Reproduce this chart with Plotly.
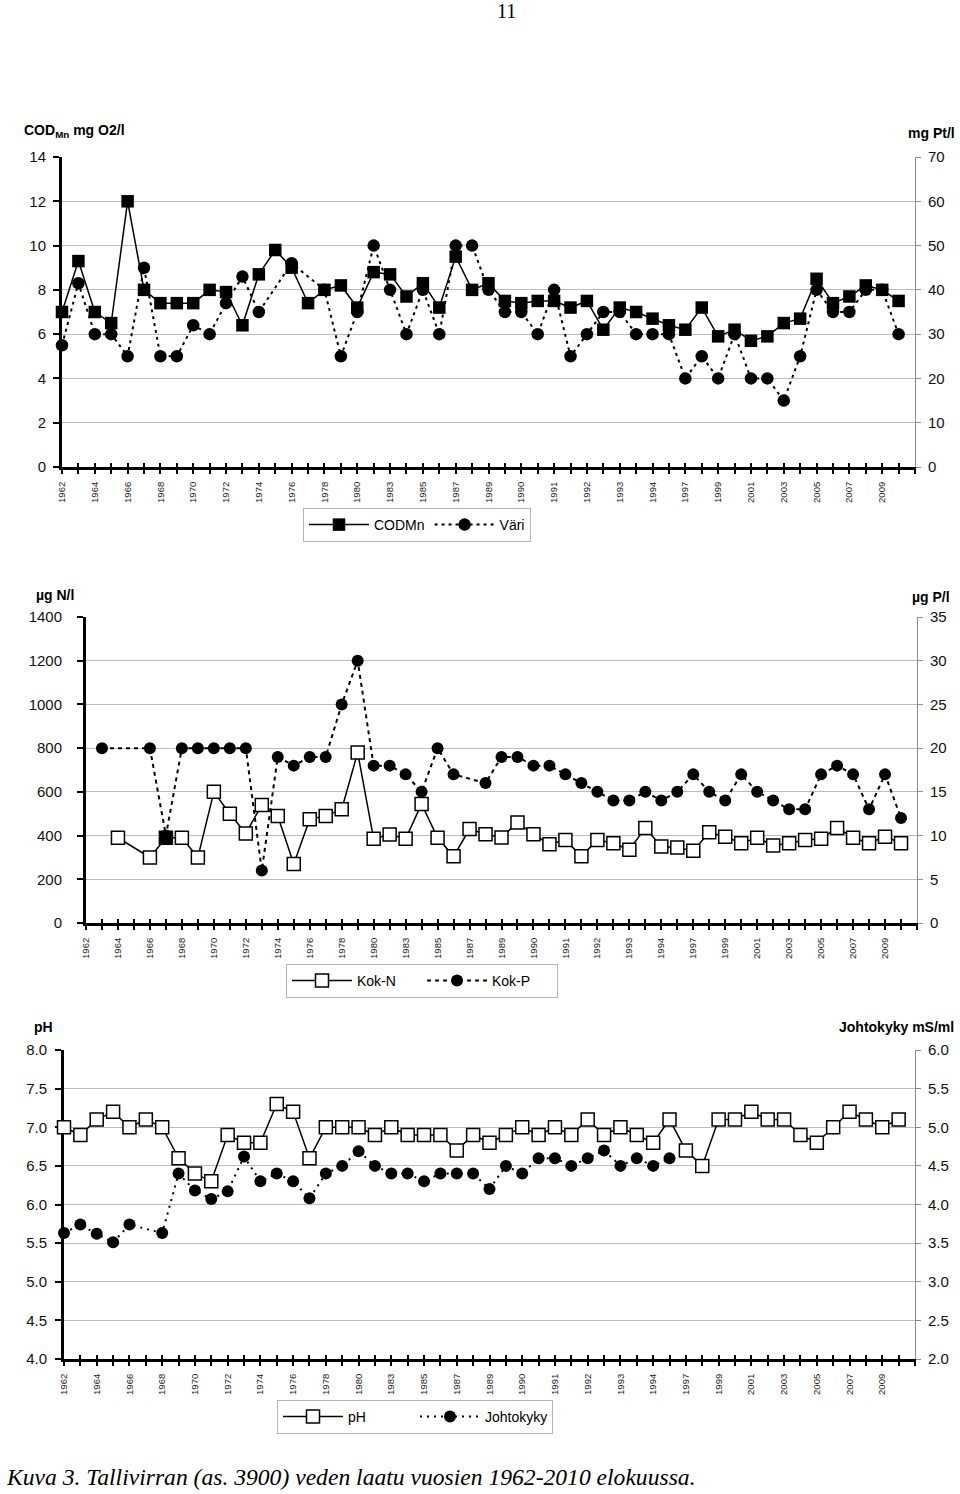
import plotly.graph_objects as go

# ---------------- data ----------------
tick_labels = ["1962", "1964", "1966", "1968", "1970", "1972", "1974", "1976", "1978",
               "1980", "1983", "1985", "1987", "1989", "1990", "1991", "1992", "1993",
               "1994", "1997", "1999", "2001", "2003", "2005", "2007", "2009"]

cod = [7.0, 9.3, 7.0, 6.5, 12.0, 8.0, 7.4, 7.4, 7.4, 8.0,
       7.9, 6.4, 8.7, 9.8, 9.0, 7.4, 8.0, 8.2, 7.2, 8.8,
       8.7, 7.7, 8.3, 7.2, 9.5, 8.0, 8.3, 7.5, 7.4, 7.5,
       7.5, 7.2, 7.5, 6.2, 7.2, 7.0, 6.7, 6.4, 6.2, 7.2,
       5.9, 6.2, 5.7, 5.9, 6.5, 6.7, 8.5, 7.4, 7.7, 8.2,
       8.0, 7.5]
vari = [27.5, 41.5, 30, 30, 25, 45, 25, 25, 32, 30,
        37, 43, 35, None, 46, None, 40, 25, 35, 50,
        40, 30, 40, 30, 50, 50, 40, 35, 35, 30,
        40, 25, 30, 35, 35, 30, 30, 30, 20, 25,
        20, 30, 20, 20, 15, 25, 40, 35, 35, 40,
        40, 30]

kok_n = [None, None, 390, None, 300, 390, 390, 300, 600, 500,
         410, 540, 490, 270, 475, 490, 520, 780, 385, 405,
         385, 545, 390, 305, 430, 406, 391, 460, 406, 360,
         380, 305, 380, 365, 335, 435, 350, 345, 330, 415,
         395, 365, 390, 355, 365, 380, 385, 435, 390, 365,
         395, 365]
kok_n_highlight = 5  # the one Kok-N marker drawn filled black in the original
kok_p = [None, 20, None, None, 20, 10, 20, 20, 20, 20,
         20, 6, 19, 18, 19, 19, 25, 30, 18, 18,
         17, 15, 20, 17, None, 16, 19, 19, 18, 18,
         17, 16, 15, 14, 14, 15, 14, 15, 17, 15,
         14, 17, 15, 14, 13, 13, 17, 18, 17, 13,
         17, 12]

ph = [7.0, 6.9, 7.1, 7.2, 7.0, 7.1, 7.0, 6.6, 6.4, 6.3,
      6.9, 6.8, 6.8, 7.3, 7.2, 6.6, 7.0, 7.0, 7.0, 6.9,
      7.0, 6.9, 6.9, 6.9, 6.7, 6.9, 6.8, 6.9, 7.0, 6.9,
      7.0, 6.9, 7.1, 6.9, 7.0, 6.9, 6.8, 7.1, 6.7, 6.5,
      7.1, 7.1, 7.2, 7.1, 7.1, 6.9, 6.8, 7.0, 7.2, 7.1,
      7.0, 7.1]
johtokyky = [3.63, 3.74, 3.62, 3.51, 3.74, None, 3.63, 4.40, 4.18, 4.07,
             4.17, 4.62, 4.30, 4.40, 4.30, 4.08, 4.40, 4.50, 4.69, 4.50,
             4.40, 4.40, 4.30, 4.40, 4.40, 4.40, 4.20, 4.50, 4.40, 4.60,
             4.60, 4.50, 4.60, 4.70, 4.50, 4.60, 4.50, 4.60, None, None,
             None, None, None, None, None, None, None, None, None, None,
             None, None]

# ---------------- layout helpers ----------------
W, H = 960, 1494
FONT = "Liberation Sans, Arial, sans-serif"
SERIF = "Liberation Serif, Times New Roman, serif"

n_slots = len(cod) + 1          # one empty category slot at the end
idx = list(range(len(cod)))
slot_vals = list(range(n_slots))
slot_text = [tick_labels[i // 2] if (i % 2 == 0 and i // 2 < len(tick_labels)) else ""
             for i in slot_vals]


def fx(p):
    return p / W


def fy(p):
    return 1 - p / H


panels = {
    "top": dict(x0=62, x1=915, y0=157, y1=467),
    "mid": dict(x0=86, x1=917, y0=617, y1=923),
    "bot": dict(x0=64, x1=915, y0=1050, y1=1359),
}

fig = go.Figure()

GRID = "#bdbdbd"
YFONT = 15


def x_main(p, anchor):
    return dict(domain=[fx(p["x0"]), fx(p["x1"])], anchor=anchor,
                range=[0, n_slots - 1], tickmode="array", tickvals=slot_vals,
                ticktext=slot_text, tickangle=-90, ticks="outside", ticklen=4,
                tickwidth=2, tickcolor="black", showline=True, linewidth=3,
                linecolor="black", showgrid=False, zeroline=False,
                tickfont=dict(family=FONT, size=9.5, color="#222"),
                ticklabelstandoff=4, layer="below traces", fixedrange=True)


def x_overlay(p, over, anchor):
    return dict(domain=[fx(p["x0"]), fx(p["x1"])], anchor=anchor, overlaying=over,
                range=[0, n_slots - 1], tickmode="array", tickvals=slot_vals,
                showticklabels=False, ticks="inside", ticklen=4, tickwidth=2,
                tickcolor="black", showline=False, showgrid=False, zeroline=False,
                layer="below traces")


def y_right(p, anchor, rng, dtick, fmt=None):
    d = dict(domain=[fy(p["y1"]), fy(p["y0"])], anchor=anchor, side="right",
             range=rng, dtick=dtick, tick0=rng[0], showgrid=True, gridcolor=GRID,
             gridwidth=1, showline=True, linecolor="#8c8c8c", linewidth=1,
             ticks="outside", ticklen=5, tickcolor="#8c8c8c", zeroline=False,
             tickfont=dict(family=FONT, size=YFONT, color="#111"),
             ticklabelstandoff=4, layer="below traces")
    if fmt:
        d["tickformat"] = fmt
    return d


def y_left(p, anchor, over, rng, dtick, fmt=None, standoff=4):
    d = dict(domain=[fy(p["y1"]), fy(p["y0"])], anchor=anchor, overlaying=over,
             side="left", range=rng, dtick=dtick, tick0=rng[0], showgrid=False,
             showline=True, linecolor="black", linewidth=3, ticks="outside",
             ticklen=6, tickwidth=2, tickcolor="black", zeroline=False,
             tickfont=dict(family=FONT, size=YFONT, color="#111"),
             ticklabelstandoff=standoff, layer="below traces")
    if fmt:
        d["tickformat"] = fmt
    return d


# ---------- top panel: CODMn / Väri ----------
fig.add_trace(go.Scatter(x=idx, y=vari, name="Väri", xaxis="x", yaxis="y",
                         mode="lines+markers", connectgaps=True, cliponaxis=False,
                         line=dict(color="black", width=2, dash="3px,4px"),
                         marker=dict(symbol="circle", size=12.5, color="black"),
                         legend="legend", legendrank=2))
fig.add_trace(go.Scatter(x=idx, y=cod, name="CODMn", xaxis="x", yaxis="y2",
                         mode="lines+markers", connectgaps=True, cliponaxis=False,
                         line=dict(color="black", width=1.5),
                         marker=dict(symbol="square", size=12.5, color="black"),
                         legend="legend", legendrank=1))
fig.add_trace(go.Scatter(x=[None], y=[None], xaxis="x4", yaxis="y",
                         showlegend=False, hoverinfo="skip"))

# ---------- middle panel: Kok-N / Kok-P ----------
fig.add_trace(go.Scatter(x=idx, y=kok_p, name="Kok-P", xaxis="x2", yaxis="y3",
                         mode="lines+markers", connectgaps=True, cliponaxis=False,
                         line=dict(color="black", width=2, dash="4px,4px"),
                         marker=dict(symbol="circle", size=12, color="black"),
                         legend="legend2", legendrank=2))
kn_fill = ["black" if i == kok_n_highlight else "white" for i in idx]
fig.add_trace(go.Scatter(x=idx, y=kok_n, name="Kok-N", xaxis="x2", yaxis="y4",
                         mode="lines+markers", connectgaps=True, cliponaxis=False,
                         line=dict(color="black", width=1.5),
                         marker=dict(symbol="square", size=13, color=kn_fill,
                                     line=dict(color="black", width=1.5)),
                         legend="legend2", legendrank=1))
fig.add_trace(go.Scatter(x=[None], y=[None], xaxis="x5", yaxis="y3",
                         showlegend=False, hoverinfo="skip"))

# ---------- bottom panel: pH / Johtokyky ----------
fig.add_trace(go.Scatter(x=idx, y=johtokyky, name="Johtokyky", xaxis="x3", yaxis="y5",
                         mode="lines+markers", connectgaps=True, cliponaxis=False,
                         line=dict(color="black", width=2, dash="2px,5px"),
                         marker=dict(symbol="circle", size=12, color="black"),
                         legend="legend3", legendrank=2))
fig.add_trace(go.Scatter(x=idx, y=ph, name="pH", xaxis="x3", yaxis="y6",
                         mode="lines+markers", connectgaps=True, cliponaxis=False,
                         line=dict(color="black", width=1.5),
                         marker=dict(symbol="square", size=13, color="white",
                                     line=dict(color="black", width=1.5)),
                         legend="legend3", legendrank=1))
fig.add_trace(go.Scatter(x=[None], y=[None], xaxis="x6", yaxis="y5",
                         showlegend=False, hoverinfo="skip"))

pt, pm, pb = panels["top"], panels["mid"], panels["bot"]


def legend_box(cx, top, entrywidth=None):
    d = dict(orientation="h", x=fx(cx), xanchor="center", y=fy(top), yanchor="top",
             bgcolor="white", bordercolor="#b5b5b5", borderwidth=1,
             font=dict(family=FONT, size=14, color="black"), itemwidth=60,
             traceorder="normal")
    if entrywidth:
        d["entrywidth"] = entrywidth
    return d


fig.update_layout(
    width=W, height=H, margin=dict(l=0, r=0, t=0, b=0, pad=0, autoexpand=False),
    paper_bgcolor="white", plot_bgcolor="white",
    font=dict(family=FONT, color="black"),
    xaxis=x_main(pt, "y"), xaxis4=x_overlay(pt, "x", "y"),
    xaxis2=x_main(pm, "y3"), xaxis5=x_overlay(pm, "x2", "y3"),
    xaxis3=x_main(pb, "y5"), xaxis6=x_overlay(pb, "x3", "y5"),
    yaxis=y_right(pt, "x", [0, 70], 10),
    yaxis2=y_left(pt, "x", "y", [0, 14], 2),
    yaxis3=y_right(pm, "x2", [0, 35], 5),
    yaxis4=y_left(pm, "x2", "y3", [0, 1400], 200, standoff=12),
    yaxis5=y_right(pb, "x3", [2, 6], 0.5, ".1f"),
    yaxis6=y_left(pb, "x3", "y5", [4, 8], 0.5, ".1f", standoff=5),
    legend=legend_box(417, 508),
    legend2=legend_box(422, 964, 60),
    legend3=legend_box(415, 1400, 62),
    showlegend=True,
)

ann = []


def label(text, x, y, anchor="left", size=14, family=FONT):
    ann.append(dict(text=text, x=fx(x), y=fy(y), xref="paper", yref="paper",
                    xanchor=anchor, yanchor="middle", showarrow=False,
                    font=dict(family=family, size=size, color="black")))


label("<b>COD<sub>Mn</sub> mg O2/l</b>", 22, 131)
label("<b>mg Pt/l</b>", 957, 133, "right")
label("<b>µg N/l</b>", 34, 595)
label("<b>µg P/l</b>", 952, 597, "right")
label("<b>pH</b>", 32, 1027)
label("<b>Johtokyky mS/ml</b>", 956, 1027, "right")
label("11", 506, 11, "center", size=20, family=SERIF)
label("<i>Kuva 3. Tallivirran (as. 3900) veden laatu vuosien 1962-2010 elokuussa.</i>",
      4, 1477, "left", size=23.6, family=SERIF)

fig.update_layout(annotations=ann)

fig.write_html("out.html", config={"displayModeBar": False},
               post_script="document.body.style.margin='0px';")
